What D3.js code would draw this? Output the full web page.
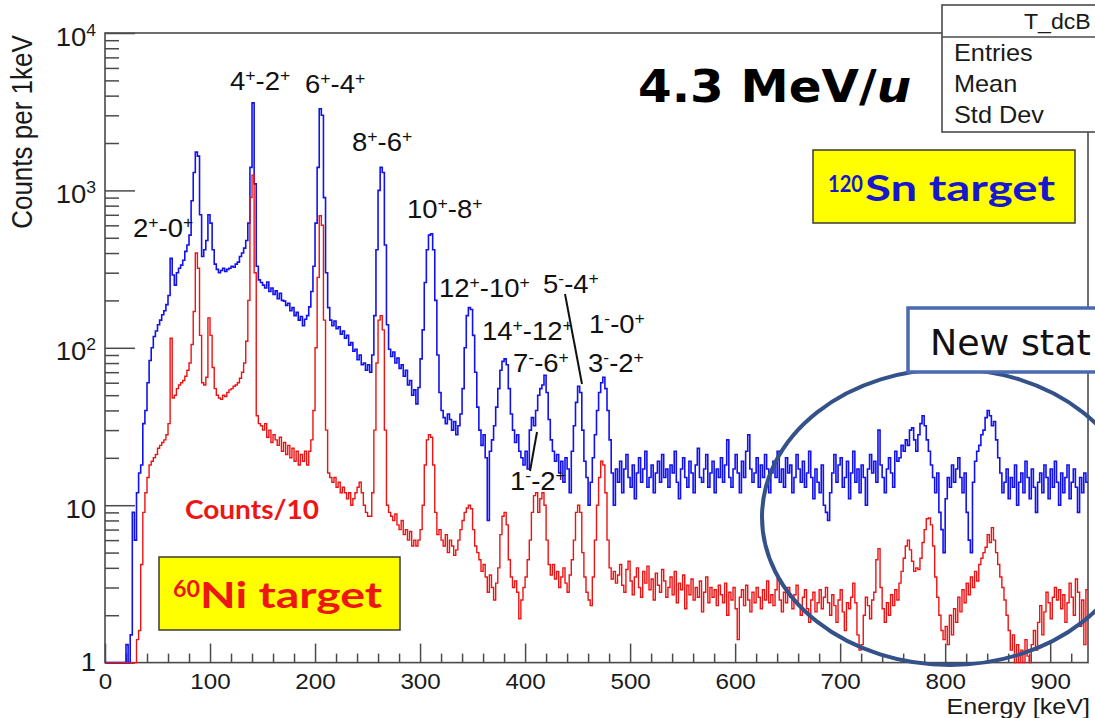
<!DOCTYPE html>
<html><head><meta charset="utf-8">
<script src="https://cdn.jsdelivr.net/npm/d3@7"></script>
<style>
html,body{margin:0;padding:0;background:#fff;overflow:hidden;}
svg{display:block;}
</style></head><body>
<svg id="chart" width="1095" height="718"></svg>
<script>
// ---------------- DATA ----------------
const binWidth = 2; // keV per bin, first bin starts at 0 keV
const xTickValues = [0,100,200,300,400,500,600,700,800,900];
const yTickValues = [1,10,100,1000,10000];
const yTickLabels = [["1",""],["10",""],["10","2"],["10","3"],["10","4"]];

// 120Sn target, counts per 1 keV
const sn120Counts = [
  0,0,0,0,0,0,0,0,0,0, 1.3,0,1.5,9,6,12,16,18,33,40, 60,83,100,118,128,
  140,150,162,172,188,215,370,290,250,300, 320,335,360,410,450,520,860,1300,1750,1650, 700,380,420,480,700,
  620,420,340,315,300,310,320,305,315,320, 330,325,340,350,380,400,430,480,620,1400, 3600,1100,330,270,260,
  250,240,262,228,240,218,230,205,222,200, 198,186,192,172,180,160,168,150,158,138, 152,160,182,228,330,
  620,1400,3300,3000,900,300,180,150,138,148, 132,136,122,128,115,120,104,108,95,98, 84,90,78,80,72,
  78,70,90,160,420,1000,1400,1300,450,140, 98,88,94,80,86,74,78,66,72,58, 62,50,54,44,56,
  85,130,260,420,520,530,420,200,90,52, 40,36,33,38,35,30,34,28,32,38, 55,100,160,180,175,
  120,70,42,30,24,28,20,8,22,26, 32,42,55,72,82,85,78,55,38,30, 25,28,22,20,18,
  22,17,30,36,32,40,50,55,58,67, 52,35,26,22,19,21,16,19,14,20, 17,12,22,32,45,
  57,52,30,19,15,10,14,20,28,40, 52,60,65,55,40,26,16,10,17,
  14,19,12,17,21,15,13,18,11,16, 20,14,17,22,13,15,18,12,16,19, 14,21,15,17,
  13,18,16,22,14,11,17,20,15,13, 19,16,12,18,23,15,14,17,21,13, 16,19,12,17,15,
  20,14,18,26,15,13,17,21,16,12, 19,15,22,28,17,14,16,20,13,18, 15,21,17,12,16,
  19,15,22,14,17,13,20,16,18,12, 15,21,17,14,19,13,16,22,15,11, 17,14,12,18,10,
  9,8,12,16,21,14,18,20,13,15, 19,11,16,22,14,17,12,18,15,10, 17,21,16,19,14,
  30,18,15,12,17,20,16,13,22,19, 20,24,22,26,24,30,31,26,22,28, 33,37,32,26,22,
  18,15,12,16,9,7,5,11,15,13, 18,14,17,20,15,12,16,9,6,5, 14,19,22,24,28,
  30,36,40,37,32,34,26,20,16,12, 14,17,11,15,13,18,10,14,16,12, 19,15,11,17,13,
  9,14,16,12,18,15,11,17,13,19, 14,10,16,12,15,18,11,14,17,13, 9,15,12,16,14
];

// 60Ni target, counts per 1 keV divided by 10
const ni60Counts = [
  0,0,0,0,0,0,0,0,0,0, 0,0,0,0,0,1.4,1.6,4.2,9,12, 15,18,19,20,21,
  23,24,25,26,28,33,115,48,50,55, 58,60,62,66,72,80,105,170,400,320, 120,60,58,65,155,
  120,75,55,50,48,47,50,49,52,54, 55,57,58,60,64,70,80,110,200,900, 1250,300,37,33,32,
  30,33,27,30,25,28,26,24,27,22, 25,21,24,20,23,19,22,18,21,19, 22,18,22,26,40,
  100,280,690,600,150,30,16,15,14,15, 13,14,12,13,12,11,12,10,11,12, 13,14,12,10,9,
  8.5,8.5,12,30,80,150,160,130,30,10, 9,8.5,8,8.8,7.5,7,8,6.5,7,6, 6.8,5.5,6,5.5,6,
  7,10,18,26,28,27,18,9,6.5,7, 6,5.5,6.5,5,6,5.5,4.8,5.2,6,7, 8,9,9.6,10,9.5,
  7,5.5,5,4.5,3.8,4.2,3.5,2.8,3.6,3, 2.5,3.2,4,6.5,8.5,9,7.5,4.5,3.5,3, 3.3,2.8,1.9,2.5,3,
  3.5,4.5,6,9,11.5,12,9,11,12,10, 6,4.2,3.6,4.2,3.4,3.8,3,3.5,4,3.2, 2.8,3.6,4.5,6,9,
  10,9,5,3.5,2.8,2.5,2.3,3.5,6,10, 15,19,18,12,6,4,3.4,3.8,3.2,
  3.6,4.2,3.1,2.8,3.9,4.4,3.3,2.7,3.5,4, 3,2.6,3.8,3.2,4.1,2.9,3.4,2.5,3.7,3.1, 2.8,3.9,3.3,2.6,
  3.0,3.5,2.7,3.8,2.4,3.2,2.9,3.6,2.2,3.1, 2.7,3.4,2.5,3.0,2.6,3.3,2.1,2.8,3.5,2.4, 3.0,2.6,2.9,2.3,3.1,
  2.7,2.4,3.2,2.0,2.8,2.5,3.0,2.2,1.4,2.6, 2.9,2.3,3.1,2.5,2.1,2.8,2.4,3.0,2.6,2.2, 2.9,2.5,3.3,2.4,2.7,
  2.3,2.9,3.4,2.5,2.1,2.8,2.4,3.0,2.6,2.2, 2.7,3.1,2.3,2.0,2.6,2.9,2.2,1.8,2.5,2.8, 2.1,2.4,2.9,2.2,2.6,
  3.0,2.4,2.0,2.7,2.3,1.8,2.5,2.9,2.1,1.6, 2.4,2.2,2.6,3.2,2.4,1.5,1.2,1.3,2.0,2.6, 2.3,1.9,2.5,2.8,4.5,
  5.3,3.0,2.2,1.8,2.4,2.0,2.7,2.3,2.9,2.5, 3.2,3.8,4.6,5.5,6.0,5.2,4.4,3.8,4.0,3.9, 4.6,5.8,7.0,8.2,8.3,
  7.5,5.5,3.5,2.6,2.0,1.6,1.4,1.7,1.3,2.0, 1.5,2.2,1.8,2.6,2.1,2.9,2.4,3.2,2.7,3.5, 3.0,3.8,3.3,4.2,4.6,
  5.0,5.4,6.5,5.8,7.2,6.0,5.0,4.2,3.5,3.0, 2.5,2.0,1.6,1.2,1.5,1.0,1.3,0.8,1.2,0.9, 1.4,1.1,0.7,1.3,1.6,
  1.2,1.8,2.3,1.5,2.1,2.8,2.4,1.9,2.6,3.0, 2.5,2.9,2.2,2.7,1.8,2.4,3.2,2.6,2.0,3.4, 2.8,1.7,2.5,1.3,2.9
];

// transition labels: [base, superscript] pairs
const transitionText = [
  [["2","+"],["-0","+"]],
  [["4","+"],["-2","+"]],
  [["6","+"],["-4","+"]],
  [["8","+"],["-6","+"]],
  [["10","+"],["-8","+"]],
  [["12","+"],["-10","+"]],
  [["5","-"],["-4","+"]],
  [["14","+"],["-12","+"]],
  [["1","-"],["-0","+"]],
  [["7","-"],["-6","+"]],
  [["3","-"],["-2","+"]],
  [["1","-"],["-2","+"]]
];
const statsTitle = "T_dcB";
const statsRows = ["Entries","Mean","Std Dev"];

// ---------------- LAYOUT ----------------
const frame = {left:105, right:1088, top:33, bottom:662.6};
const transitionPos = [[133,237],[230,90],[305,93],[352,151],[407,218],[439,297],[543,293],[482,340],[589,333],[513,372],[588,372],[510,490]];
const SX = 1.1; // horizontal stretch of the original picture
const sansFont = "'Liberation Sans', Arial, sans-serif";

const svg = d3.select("#chart");
const x = d3.scaleLinear().domain([0, sn120Counts.length * binWidth]).range([frame.left, frame.right]);
const y = d3.scaleLog().domain([1, 10000]).range([frame.bottom, frame.top]);
const axisColor = "#4a4a4a";

svg.append("defs").append("clipPath").attr("id","plotclip")
  .append("rect").attr("x",frame.left).attr("y",frame.top)
  .attr("width",frame.right-frame.left).attr("height",frame.bottom-frame.top+2);

// frame
svg.append("rect").attr("x",frame.left).attr("y",frame.top)
  .attr("width",frame.right-frame.left).attr("height",frame.bottom-frame.top)
  .attr("fill","none").attr("stroke",axisColor).attr("stroke-width",1.6);

// x axis
const xMinor = d3.range(20, 936, 20).filter(v => v % 100 !== 0);
const gxMinor = svg.append("g").attr("transform",`translate(0,${frame.bottom})`)
  .call(d3.axisBottom(x).tickValues(xMinor).tickSize(-9).tickSizeOuter(0).tickFormat(""));
const gx = svg.append("g").attr("transform",`translate(0,${frame.bottom})`)
  .call(d3.axisBottom(x).tickValues(xTickValues).tickSize(-19).tickSizeOuter(0).tickPadding(11).tickFormat(d3.format("d")));
[gx, gxMinor].forEach(g => {
  g.select(".domain").remove();
  g.selectAll(".tick line").attr("stroke",axisColor).attr("stroke-width",1.5);
});
gxMinor.selectAll(".tick text").remove();
gx.selectAll(".tick text").attr("font-family",sansFont)
  .attr("font-size",22).attr("fill","#1a1a1a").attr("transform",`scale(${SX},1)`);

// y axis
const yMinor = [];
[1,10,100,1000].forEach(d => { for (let k=2;k<=9;k++) yMinor.push(d*k); });
const gyMinor = svg.append("g").attr("transform",`translate(${frame.left},0)`)
  .call(d3.axisLeft(y).tickValues(yMinor).tickSize(-14).tickSizeOuter(0).tickFormat(""));
const gy = svg.append("g").attr("transform",`translate(${frame.left},0)`)
  .call(d3.axisLeft(y).tickValues(yTickValues).tickSize(-30).tickSizeOuter(0).tickFormat(""));
[gy, gyMinor].forEach(g => {
  g.select(".domain").remove();
  g.selectAll(".tick line").attr("stroke",axisColor).attr("stroke-width",1.5);
  g.selectAll(".tick text").remove();
});
gy.selectAll(".tick").each(function(d, i){
  const lab = yTickLabels[i];
  const t = d3.select(this).append("text")
    .attr("font-family",sansFont).attr("font-size",25)
    .attr("fill","#1a1a1a").attr("text-anchor","end")
    .attr("transform",`translate(-9,${d === 1 ? 8 : 12}) scale(${SX},1)`);
  t.append("tspan").text(lab[0]);
  if (lab[1]) t.append("tspan").attr("font-size",16).attr("dy",-10).text(lab[1]);
});

// axis titles
svg.append("text").text("Counts per 1keV")
  .attr("font-family",sansFont).attr("font-size",26).attr("fill","#1a1a1a")
  .attr("text-anchor","middle")
  .attr("transform",`translate(32,132) scale(${SX},1) rotate(-90)`);
svg.append("text").text("Energy [keV]")
  .attr("font-family",sansFont).attr("font-size",22).attr("fill","#1a1a1a")
  .attr("text-anchor","end")
  .attr("transform",`translate(1090,714) scale(1.14,1)`);

// histograms
const histLine = d3.line()
  .x(d => x(d[0]))
  .y(d => y(Math.max(d[1], 1)))
  .curve(d3.curveStepAfter);
function histPoints(counts){
  const pts = counts.map((c,i) => [i*binWidth, c]);
  pts.push([counts.length*binWidth, counts[counts.length-1]]);
  return pts;
}
const plot = svg.append("g").attr("clip-path","url(#plotclip)");
plot.append("path").datum(histPoints(sn120Counts)).attr("d",histLine)
  .attr("fill","none").attr("stroke","#1212ee").attr("stroke-width",1.6);
plot.append("path").datum(histPoints(ni60Counts)).attr("d",histLine)
  .attr("fill","none").attr("stroke","#ee1212").attr("stroke-width",1.4);

// transition labels
transitionText.forEach((parts, i) => {
  const [px, py] = transitionPos[i];
  const t = svg.append("text")
    .attr("font-family",sansFont).attr("font-size",25).attr("fill","#111")
    .attr("transform",`translate(${px},${py}) scale(${SX},1)`);
  parts.forEach(([b, s], k) => {
    t.append("tspan").attr("dy", k === 0 ? 0 : 9).text(b);
    t.append("tspan").attr("font-size",16).attr("dy",-9).text(s);
  });
});
svg.append("line").attr("x1",565).attr("y1",294).attr("x2",582).attr("y2",384)
  .attr("stroke","#111").attr("stroke-width",2);
svg.append("line").attr("x1",530).attr("y1",471).attr("x2",537).attr("y2",432)
  .attr("stroke","#111").attr("stroke-width",2);

// beam energy title
const title = svg.append("text").attr("font-family","'DejaVu Sans', Verdana, sans-serif")
  .attr("font-weight","bold").attr("font-size",44).attr("fill","#000")
  .attr("transform",`translate(638,102) scale(${SX},1)`);
title.append("tspan").text("4.3 MeV/");
title.append("tspan").attr("font-style","italic").text("u");

// stats box
svg.append("rect").attr("x",942).attr("y",5).attr("width",200).attr("height",127)
  .attr("fill","#fff").attr("stroke",axisColor).attr("stroke-width",1.6);
svg.append("line").attr("x1",942).attr("x2",1100).attr("y1",37).attr("y2",37)
  .attr("stroke",axisColor).attr("stroke-width",1.6);
svg.append("text").text(statsTitle).attr("font-family",sansFont)
  .attr("font-size",22).attr("fill","#1a1a1a").attr("transform",`translate(1024,29) scale(1.05,1)`);
statsRows.forEach((r, i) => {
  svg.append("text").text(r).attr("font-family",sansFont)
    .attr("font-size",23).attr("fill","#1a1a1a")
    .attr("transform",`translate(954,${61 + i*31}) scale(${SX},1)`);
});

// target boxes
svg.append("rect").attr("x",813).attr("y",150).attr("width",262).attr("height",73)
  .attr("fill","#ffff00").attr("stroke","#3a3a3a").attr("stroke-width",1.5);
svg.append("text").text("120").attr("font-family","Lato, 'Open Sans', sans-serif").attr("font-weight","bold")
  .attr("font-size",22).attr("fill","#1717cc").attr("x",828).attr("y",192)
  .attr("textLength",35).attr("lengthAdjust","spacingAndGlyphs");
svg.append("text").text("Sn target").attr("font-family","Lato, 'Open Sans', sans-serif").attr("font-weight","bold")
  .attr("font-size",36).attr("fill","#1717cc").attr("x",865).attr("y",201)
  .attr("textLength",190).attr("lengthAdjust","spacingAndGlyphs");

svg.append("rect").attr("x",159).attr("y",557).attr("width",241).attr("height",73)
  .attr("fill","#ffff00").attr("stroke","#3a3a3a").attr("stroke-width",1.5);
svg.append("text").text("60").attr("font-family","Lato, 'Open Sans', sans-serif").attr("font-weight","bold")
  .attr("font-size",23).attr("fill","#ee1515").attr("x",173).attr("y",597)
  .attr("textLength",27).attr("lengthAdjust","spacingAndGlyphs");
svg.append("text").text("Ni target").attr("font-family","Lato, 'Open Sans', sans-serif").attr("font-weight","bold")
  .attr("font-size",36).attr("fill","#ee1515").attr("x",200).attr("y",608)
  .attr("textLength",182).attr("lengthAdjust","spacingAndGlyphs");

svg.append("text").text("Counts/10").attr("font-family","Lato, 'Open Sans', sans-serif").attr("font-weight","bold")
  .attr("font-size",26).attr("fill","#ee1515").attr("x",185).attr("y",519)
  .attr("textLength",134).attr("lengthAdjust","spacingAndGlyphs");

// ellipse marking the new states
svg.append("ellipse").attr("cx",950).attr("cy",517).attr("rx",188).attr("ry",148)
  .attr("fill","none").attr("stroke","#34518a").attr("stroke-width",4);
svg.append("rect").attr("x",908).attr("y",308).attr("width",220).attr("height",64)
  .attr("fill","#fff").attr("stroke","#4a6bb0").attr("stroke-width",3.5);
svg.append("text").text("New stat").attr("font-family","'DejaVu Sans', Verdana, sans-serif")
  .attr("font-size",35).attr("fill","#111")
  .attr("transform",`translate(930,355) scale(1.04,1)`);
</script>
</body></html>
